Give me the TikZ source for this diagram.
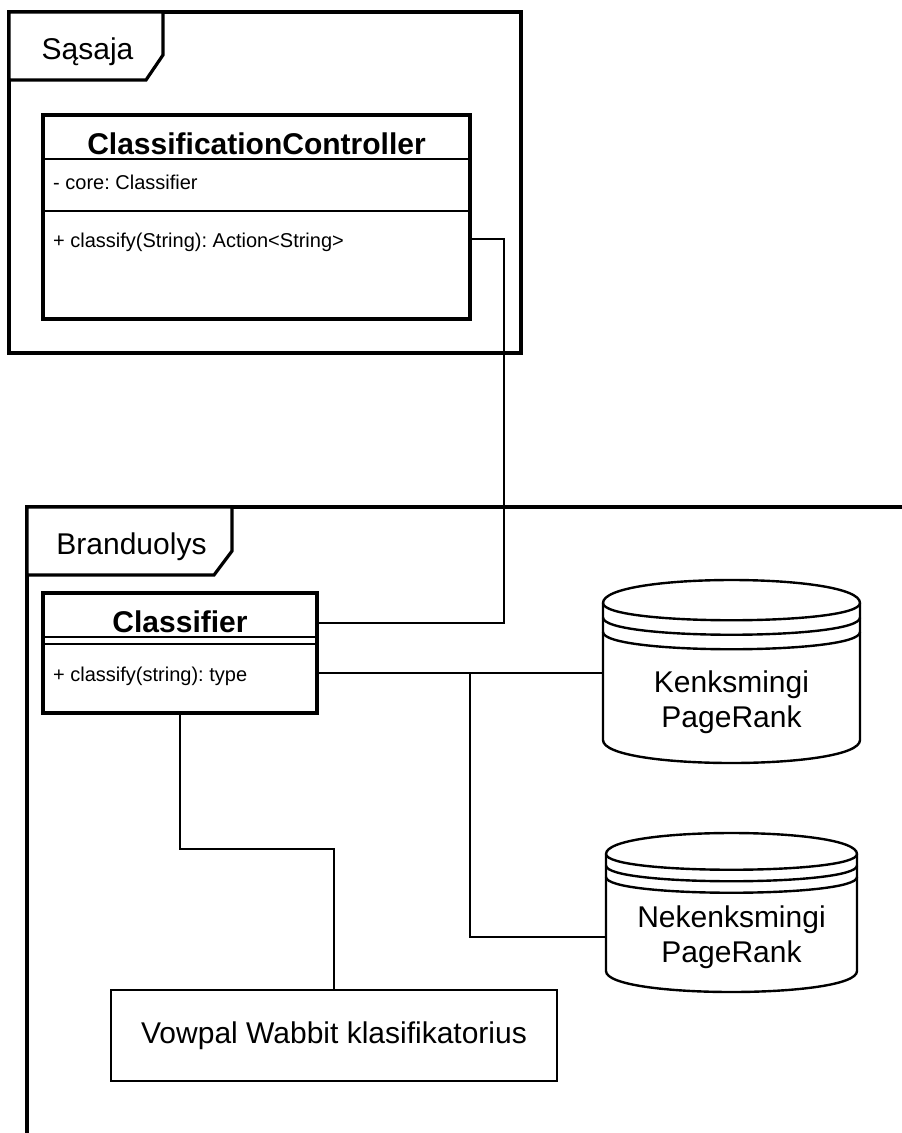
\documentclass[tikz,border=0pt]{standalone}
\usepackage{fontspec}
\setmainfont{Liberation Sans}
\usetikzlibrary{calc}
\frenchspacing

% data store drum: top-left x, y, width, height, cap depth, band step
\newcommand\drawstore[6]{%
  \begin{scope}[shift={(#1,#2)}]
    \draw[storeshape] (0,#5) .. controls (0,-#5/3) and (#3,-#5/3) .. (#3,#5)
      -- (#3,#4-#5) .. controls (#3,#4+#5/3) and (0,#4+#5/3) .. (0,#4-#5) -- cycle;
    \foreach \k in {0,1,2} {
      \draw[storeline] (0,#5+\k*#6) .. controls (0,2*#5+\k*#6) and (#3,2*#5+\k*#6) .. (#3,#5+\k*#6);
    }
  \end{scope}}

\begin{document}
\begin{tikzpicture}[x=1pt,y=-1pt,
  frameline/.style={line width=3.2pt, line join=miter},
  classbox/.style={draw, line width=3.2pt, fill=white, rectangle, inner sep=0pt, outer sep=0pt},
  headsep/.style={line width=2.8pt},
  thinsep/.style={line width=1.6pt},
  conn/.style={line width=1.6pt},
  bigtext/.style={font=\fontsize{30}{35}\selectfont, inner sep=0pt},
  bigbold/.style={font=\fontsize{30}{35}\selectfont\bfseries, inner sep=0pt},
  smalltext/.style={font=\fontsize{20}{24}\selectfont, inner sep=0pt},
  storeshape/.style={draw, line width=2.4pt, fill=white},
  storeline/.style={line width=2.4pt},
  compbox/.style={draw, line width=2.8pt, fill=white, inner sep=0pt, outer sep=0pt, font=\fontsize{30}{35}\selectfont},
  area/.style={inner sep=0pt, outer sep=0pt},
]
\useasboundingbox (0,0) rectangle (902,1133);
\fill[white] (0,0) rectangle (902,1133);

% ---- package "Sąsaja" ----
\node[draw, frameline, area, minimum width=512pt, minimum height=341pt] (sasaja) at (265,182.5) {};
\draw[frameline, fill=white] (sasaja.north west) -- ++(154,0) -- ++(0,43) -- ++(-17,25)
  -- (sasaja.north west |- 0,80) -- cycle;
\node[bigtext, anchor=base] (sasajalabel) at (87.5,59) {Sąsaja};

% ---- package "Branduolys" (runs past the page edges) ----
\coordinate (brand) at (27,507);
\draw[frameline] (brand -| 910,0) -- (brand) -- (brand |- 0,1140);
\draw[frameline, fill=white] (brand) -- ++(205,0) -- ++(0,44) -- ++(-18,24)
  -- (brand |- 0,575) -- cycle;
\node[bigtext, anchor=base] (brandlabel) at (131.5,554) {Branduolys};

% ---- element outlines (anchors for connectors) ----
\node[area, minimum width=427pt, minimum height=204pt] (cc) at (256.5,217) {};
\node[area, minimum width=274pt, minimum height=120pt] (cls) at (180,653) {};
\node[area, minimum width=257pt, minimum height=183pt] (kpr) at (731.5,671.5) {};
\node[area, minimum width=251pt, minimum height=159pt] (nkpr) at (731.5,912.5) {};
\node[area, minimum width=446pt, minimum height=91pt] (vwa) at (334,1035.5) {};

% ---- connectors ----
\draw[conn] (cc.east |- 0,239) -| (504,623) -- (cls.east |- 0,623);
\coordinate (split) at (470,673);
\draw[conn] (cls.east |- 0,673) -- (kpr.west |- 0,673);
\draw[conn] (split) |- (nkpr.west |- 0,937);
\draw[conn] (cls.south) |- (vwa.north |- 0,849) -- (vwa.north);

% ---- class ClassificationController ----
\node[classbox, minimum width=427pt, minimum height=204pt] (ccbox) at (cc.center) {};
\draw[headsep] (ccbox.west |- 0,159) -- (ccbox.east |- 0,159);
\draw[thinsep] (ccbox.west |- 0,211) -- (ccbox.east |- 0,211);
\node[bigbold, anchor=base] (cctitle) at (256.5,154) {ClassificationController};
\node[smalltext, anchor=base west] (ccattr) at (53,189) {- core: Classifier};
\node[smalltext, anchor=base west] (ccop) at (53,247) {+ classify(String): Action<String>};

% ---- class Classifier ----
\node[classbox, minimum width=274pt, minimum height=120pt] (clsbox) at (cls.center) {};
\draw[headsep] (clsbox.west |- 0,637) -- (clsbox.east |- 0,637);
\draw[thinsep] (clsbox.west |- 0,644) -- (clsbox.east |- 0,644);
\node[bigbold, anchor=base] (clstitle) at (180,632) {Classifier};
\node[smalltext, anchor=base west] (clsop) at (53,681) {+ classify(string): type};

% ---- data stores ----
\drawstore{603}{580}{257}{183}{23}{14.5}
\node[bigtext, align=center] (kprlabel) at (731.5,702.7) {Kenksmingi\\PageRank};
\drawstore{606}{833}{251}{159}{21}{11.5}
\node[bigtext, align=center] (nkprlabel) at (731.5,937.7) {Nekenksmingi\\PageRank};

% ---- component ----
\node[compbox, minimum width=446pt, minimum height=91pt] (vw) at (vwa.center) {Vowpal Wabbit klasifikatorius};
\end{tikzpicture}
\end{document}
